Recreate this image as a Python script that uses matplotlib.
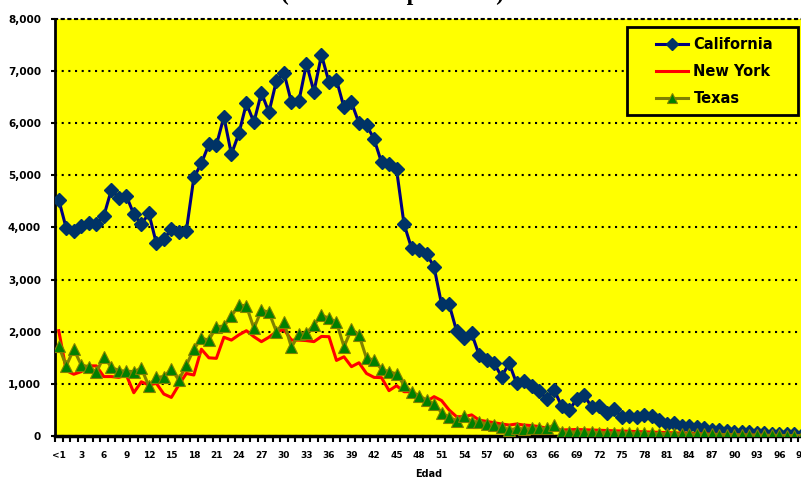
import matplotlib.pyplot as plt
from matplotlib.patches import Rectangle

# ---------- datos ----------
edades = ["<1"] + [str(i) for i in range(1, 100)]

california = [
    4530, 3985, 3940, 4035, 4080, 4065, 4220, 4720, 4570, 4610,
    4255, 4060, 4270, 3700, 3775, 3965, 3910, 3940, 4960, 5230,
    5595, 5580, 6125, 5405, 5805, 6380, 6020, 6585, 6210, 6815,
    6970, 6400, 6430, 7140, 6605, 7310, 6790, 6830, 6305, 6400,
    6000, 5965, 5700, 5250, 5220, 5115, 4065, 3605, 3575, 3500,
    3240, 2530, 2530, 2015, 1885, 1970, 1555, 1460, 1395, 1140,
    1395, 1010, 1060, 965, 870, 710, 885, 570, 490, 710,
    785, 550, 580, 450, 510, 370, 390, 360, 405, 390,
    305, 225, 255, 190, 190, 180, 160, 115, 110, 95,
    85, 75, 70, 60, 50, 45, 40, 35, 30, 25,
]

new_york = [
    2020, 1255, 1185, 1235, 1345, 1345, 1140, 1140, 1125, 1170,
    830, 1040, 980, 1010, 805, 740, 980, 1200, 1170, 1665,
    1500, 1490, 1895, 1840, 1940, 2020, 1905, 1810, 1895, 2000,
    2045, 1840, 1840, 1830, 1810, 1910, 1905, 1450, 1520, 1330,
    1405, 1200, 1125, 1120, 870, 965, 850, 850, 755, 660,
    755, 680, 500, 370, 370, 405, 305, 280, 255, 230,
    210, 230, 210, 200, 180, 150, 135, 115, 120, 125,
    120, 115, 110, 105, 100, 95, 90, 85, 80, 75,
    70, 65, 60, 55, 50, 45, 40, 35, 30, 27,
    24, 21, 18, 15, 13, 11, 9, 8, 7, 6,
]

texas = [
    1725, 1345, 1665, 1360, 1330, 1220, 1520, 1320, 1255, 1245,
    1235, 1300, 960, 1125, 1140, 1280, 1075, 1360, 1665, 1875,
    1840, 2095, 2110, 2300, 2515, 2495, 2065, 2415, 2375, 2000,
    2180, 1700, 1960, 1980, 2130, 2315, 2260, 2185, 1715, 2045,
    1940, 1490, 1460, 1280, 1235, 1190, 980, 850, 775, 690,
    615, 450, 360, 295, 385, 275, 275, 230, 210, 180,
    115, 145, 135, 145, 145, 145, 210, 85, 70, 80,
    75, 70, 65, 65, 60, 60, 55, 55, 50, 50,
    45, 45, 40, 40, 38, 35, 32, 30, 28, 25,
    22, 20, 18, 16, 14, 12, 10, 9, 8, 7,
]

y_ticks = list(range(0, 8001, 1000))

# ---------- figura ----------
W, H = 801, 479
fig = plt.figure(figsize=(W / 100, H / 100), dpi=100)
ax = fig.add_axes([55 / W, 43 / H, 1 - 55 / W + 0.002, 417 / H])
ax.set_facecolor("#FFFF00")

x = list(range(len(edades)))

ax.plot(x, california, color="#000080", lw=2.2, marker="D", ms=7.5,
        mfc="#003366", mec="#003366", label="California", zorder=3)
ax.plot(x, new_york, color="#FF0000", lw=2.2, label="New York", zorder=4)
ax.plot(x, texas, color="#808000", lw=2.2, marker="^", ms=8.5,
        mfc="#008000", mec="#808000", mew=0.8, label="Texas", zorder=5)

ax.set_xlim(-0.5, 99.1)
ax.set_ylim(0, 8000)

# ejes y cuadricula
ax.set_yticks(y_ticks)
ax.set_yticklabels([f"{v:,}" for v in y_ticks], fontsize=7.5, fontweight="bold")
ax.yaxis.grid(True, color="black", linestyle=(0, (1, 2.2)), lw=1.5)
ax.set_axisbelow(True)

ax.set_xticks(x[::3])
ax.set_xticklabels(edades[::3], fontsize=6.5, fontweight="bold")
ax.set_xticks([i - 0.5 for i in x], minor=True)
ax.tick_params(axis="x", which="major", length=0, pad=11)
ax.tick_params(axis="x", which="minor", length=4, width=1.5, direction="out")
ax.tick_params(axis="y", length=3, width=1.5, pad=7)

ax.spines["left"].set_linewidth(2)
ax.spines["bottom"].set_linewidth(2.5)
ax.spines["right"].set_visible(False)
ax.spines["top"].set_linestyle((0, (1, 2.2)))
ax.spines["top"].set_linewidth(1.5)

ax.set_xlabel("Edad", fontsize=7, fontweight="bold", labelpad=6)

# ---------- leyenda ----------
caja = Rectangle((627 / W, 1 - 115 / H), 171 / W, 88 / H,
                 transform=fig.transFigure, facecolor="#FFFF00",
                 edgecolor="black", lw=2, zorder=10, clip_on=False)
ax.add_patch(caja)
leg = ax.legend(loc="upper left", bbox_to_anchor=(649 / W, 1 - 30 / H),
                bbox_transform=fig.transFigure, frameon=False,
                prop={"weight": "bold", "size": 10.5}, handlelength=2.2,
                handletextpad=0.35, labelspacing=0.8, borderpad=0,
                markerscale=0.8)
leg.set_zorder(11)

# ---------- titulo (recortado arriba) ----------
fig.text(0.49, 1.0, "(Número de personas)", ha="center", va="baseline",
         fontsize=17, fontweight="bold", family="Liberation Serif")

fig.savefig("out.png", dpi=100)
